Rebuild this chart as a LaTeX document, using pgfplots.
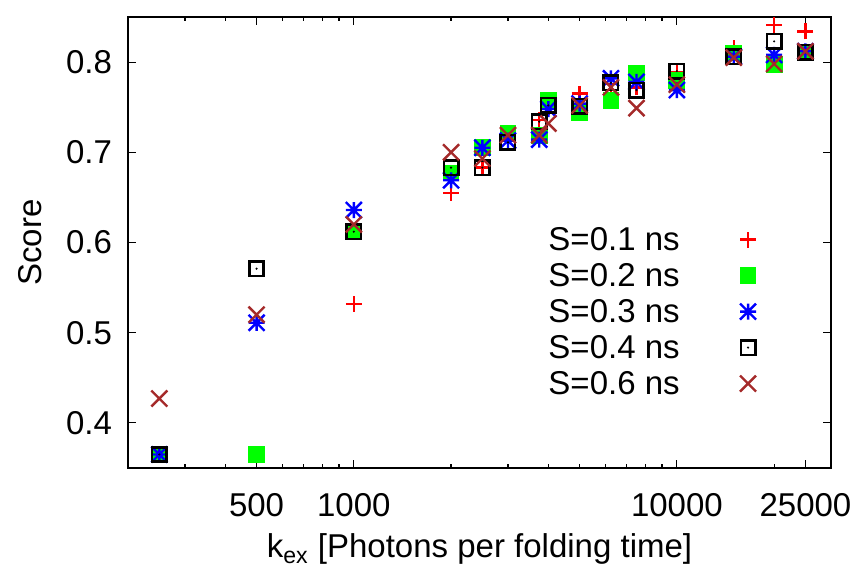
\documentclass[border=0pt]{standalone}
\usepackage{fontspec}
\setmainfont{Liberation Sans}
\usepackage{pgfplots}
\pgfplotsset{compat=1.18}
\definecolor{gpbrown}{RGB}{165,42,42}
\pgfdeclareplotmark{gpplus}{%
  \pgfpathmoveto{\pgfqpoint{-\pgfplotmarksize}{0pt}}\pgfpathlineto{\pgfqpoint{\pgfplotmarksize}{0pt}}%
  \pgfpathmoveto{\pgfqpoint{0pt}{-\pgfplotmarksize}}\pgfpathlineto{\pgfqpoint{0pt}{\pgfplotmarksize}}%
  \pgfusepathqstroke}
\pgfdeclareplotmark{gpx}{%
  \pgfpathmoveto{\pgfqpoint{-\pgfplotmarksize}{-\pgfplotmarksize}}\pgfpathlineto{\pgfqpoint{\pgfplotmarksize}{\pgfplotmarksize}}%
  \pgfpathmoveto{\pgfqpoint{-\pgfplotmarksize}{\pgfplotmarksize}}\pgfpathlineto{\pgfqpoint{\pgfplotmarksize}{-\pgfplotmarksize}}%
  \pgfusepathqstroke}
\pgfdeclareplotmark{gpstar}{%
  \pgfpathmoveto{\pgfqpoint{-\pgfplotmarksize}{0pt}}\pgfpathlineto{\pgfqpoint{\pgfplotmarksize}{0pt}}%
  \pgfpathmoveto{\pgfqpoint{0pt}{-\pgfplotmarksize}}\pgfpathlineto{\pgfqpoint{0pt}{\pgfplotmarksize}}%
  \pgfpathmoveto{\pgfqpoint{-\pgfplotmarksize}{-\pgfplotmarksize}}\pgfpathlineto{\pgfqpoint{\pgfplotmarksize}{\pgfplotmarksize}}%
  \pgfpathmoveto{\pgfqpoint{-\pgfplotmarksize}{\pgfplotmarksize}}\pgfpathlineto{\pgfqpoint{\pgfplotmarksize}{-\pgfplotmarksize}}%
  \pgfusepathqstroke}
\pgfdeclareplotmark{gpbox}{%
  \pgfpathrectangle{\pgfqpoint{-\pgfplotmarksize}{-\pgfplotmarksize}}{\pgfqpoint{2\pgfplotmarksize}{2\pgfplotmarksize}}%
  \pgfusepathqstroke
  \pgfpathcircle{\pgfpointorigin}{0.6pt}\pgfusepathqfill}
\pgfdeclareplotmark{gpfbox}{%
  \pgfpathrectangle{\pgfqpoint{-\pgfplotmarksize}{-\pgfplotmarksize}}{\pgfqpoint{2\pgfplotmarksize}{2\pgfplotmarksize}}%
  \pgfusepathqfill}
\pgfplotsset{
  gpleg/.style={legend image code/.code={\path (0pt,0pt); \draw[##1] plot coordinates {(34pt,2.5pt)};}},
}
\begin{document}
\begin{tikzpicture}
\begin{axis}[
  scale only axis,
  width=351.5pt, height=225.5pt,
  xmode=log,
  xmin=200, xmax=30000,
  ymin=0.35, ymax=0.85,
  xtick={500,1000,10000,25000},
  xticklabels={500,1000,10000,25000},
  minor xtick={300,400,600,700,800,900,2000,3000,4000,5000,6000,7000,8000,9000,20000},
  ytick={0.4,0.5,0.6,0.7,0.8},
  yticklabels={0.4,0.5,0.6,0.7,0.8},
  tick align=inside,
  xtick pos=both, ytick pos=both,
  xticklabel pos=bottom, yticklabel pos=left,
  major tick length=4pt, minor tick length=2pt,
  every tick/.style={black, line width=0.6pt},
  axis line style={line width=0.75pt},
  font=\fontsize{16.5}{19}\selectfont,
  tick label style={font=\fontsize{16.5}{19}\selectfont},
  /pgf/number format/assume math mode=true,
  yticklabel style={xshift=-4.5pt},
  xticklabel style={yshift=-9pt},
  xlabel={k\textsubscript{ex} [Photons per folding time]},
  ylabel={Score},
  xlabel style={at={(axis description cs:0.5,0)}, anchor=base, yshift=-45pt},
  ylabel style={at={(axis description cs:-0.139,0.5)}, anchor=center},
  legend plot pos=right,
  legend cell align=left,
  legend style={at={(axis description cs:0.589,0.545)}, anchor=north west,
    draw=none, fill=none, font=\fontsize{16.5}{19}\selectfont,
    row sep=0pt, nodes={inner sep=0pt, text height=12pt, text depth=6pt}},
  mark size=4pt,
]
\addplot[only marks, red, mark=gpplus, mark options={line width=1.2pt}, gpleg] coordinates {
(250,0.365) (500,0.365) (1000,0.532) (2000,0.655) (2500,0.683) (3000,0.714) (3750,0.736) (4000,0.750)
(5000,0.765) (6250,0.776) (7500,0.772) (10000,0.789) (15000,0.816) (20000,0.841) (25000,0.834)};
\addlegendentry{S=0.1 ns}
\addplot[only marks, color={rgb,255:red,0;green,255;blue,0}, mark=gpfbox, mark size=4.2pt, gpleg] coordinates {
(250,0.365) (500,0.365) (1000,0.612) (2000,0.677) (2500,0.705) (3000,0.721) (3750,0.719) (4000,0.758)
(5000,0.744) (6250,0.757) (7500,0.788) (10000,0.780) (15000,0.810) (20000,0.797) (25000,0.810)};
\addlegendentry{S=0.2 ns}
\addplot[only marks, blue, mark=gpstar, mark options={line width=1.2pt}, gpleg] coordinates {
(250,0.365) (500,0.511) (1000,0.636) (2000,0.669) (2500,0.705) (3000,0.713) (3750,0.714) (4000,0.748)
(5000,0.754) (6250,0.782) (7500,0.778) (10000,0.769) (15000,0.806) (20000,0.808) (25000,0.812)};
\addlegendentry{S=0.3 ns}
\addplot[only marks, black, mark=gpbox, mark size=3.6pt, mark options={line width=1.3pt}, gpleg] coordinates {
(250,0.365) (500,0.571) (1000,0.612) (2000,0.683) (2500,0.683) (3000,0.711) (3750,0.734) (4000,0.752)
(5000,0.751) (6250,0.777) (7500,0.769) (10000,0.790) (15000,0.806) (20000,0.823) (25000,0.811)};
\addlegendentry{S=0.4 ns}
\addplot[only marks, gpbrown, mark=gpx, mark options={line width=1.2pt}, gpleg] coordinates {
(250,0.427) (500,0.520) (1000,0.620) (2000,0.700) (2500,0.693) (3000,0.719) (3750,0.719) (4000,0.732)
(5000,0.752) (6250,0.772) (7500,0.749) (10000,0.775) (15000,0.805) (20000,0.798) (25000,0.812)};
\addlegendentry{S=0.6 ns}
\end{axis}
\pgfresetboundingbox
\path (current axis.south west) ++(-64pt,-54.5pt) rectangle ++(431pt,288.5pt);
\end{tikzpicture}
\end{document}
